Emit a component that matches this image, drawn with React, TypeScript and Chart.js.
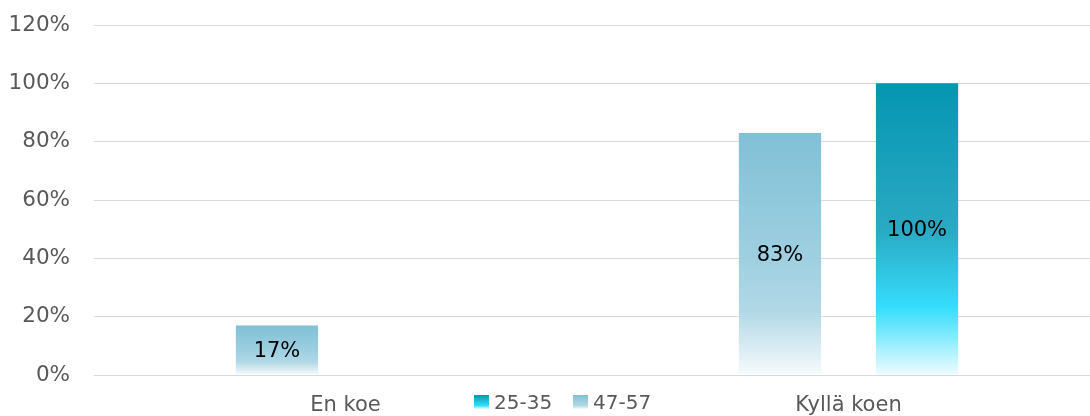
import React, { useEffect, useRef } from "react";
import { Chart, registerables } from "chart.js";

Chart.register(...registerables);

const categories = ["En koe", "Kyllä koen"];
const series4757 = [17, 83];
const series2535 = [null, 100];
const seriesNames = ["47-57", "25-35"];
const yTicks = [0, 20, 40, 60, 80, 100, 120];

const FONT = "'DejaVu Sans', Verdana, sans-serif";

const lightStops: [number, string][] = [
  [0, "#80c0d6"],
  [0.5, "#9dcfe0"],
  [0.74, "#b2d8e6"],
  [1, "#f7fbfd"],
];
const tealStops: [number, string][] = [
  [0, "#0596b2"],
  [0.5, "#2aa9c3"],
  [0.77, "#35defc"],
  [1, "#eefcff"],
];

function makeGrad(ctx: CanvasRenderingContext2D, top: number, bottom: number, stops: [number, string][]) {
  const g = ctx.createLinearGradient(0, top, 0, bottom);
  stops.forEach(([o, c]) => g.addColorStop(o, c));
  return g;
}

function barBg(stops: [number, string][]) {
  return (context: any) => {
    const chart = context.chart;
    const y = chart.scales?.y;
    const v = context.raw;
    if (!chart.chartArea || !y || v == null) return stops[0][1];
    const top = y.getPixelForValue(v);
    const bottom = y.getPixelForValue(0);
    return makeGrad(chart.ctx, top, bottom, stops);
  };
}

const dataLabelPlugin = {
  id: "dataLabels",
  afterDatasetsDraw(chart: any) {
    const ctx = chart.ctx;
    ctx.save();
    ctx.font = `21px ${FONT}`;
    ctx.fillStyle = "#000000";
    ctx.textAlign = "center";
    ctx.textBaseline = "middle";
    chart.data.datasets.forEach((ds: any, di: number) => {
      const meta = chart.getDatasetMeta(di);
      meta.data.forEach((el: any, i: number) => {
        const v = ds.data[i];
        if (v == null) return;
        ctx.fillText(`${v}%`, el.x, (el.y + el.base) / 2 + 2);
      });
    });
    ctx.restore();
  },
};

const legendPlugin = {
  id: "customLegend",
  afterDraw(chart: any) {
    const ctx = chart.ctx;
    ctx.save();
    ctx.font = `20px ${FONT}`;
    ctx.textBaseline = "middle";
    ctx.textAlign = "left";
    const items = [
      { label: seriesNames[1], stops: tealStops, x: 474 },
      { label: seriesNames[0], stops: lightStops, x: 573 },
    ];
    const cy = 403;
    items.forEach((it) => {
      const bt = 395;
      ctx.fillStyle = makeGrad(ctx, bt, bt + 14, [
        [0, it.stops[0][1]],
        [0.75, it.stops[2][1]],
        [1, it.stops[3][1]],
      ]);
      ctx.fillRect(it.x, bt, 15, 14);
      ctx.fillStyle = "#595959";
      ctx.fillText(it.label, it.x + 20, cy + 1);
    });
    ctx.restore();
  },
};

export default function App() {
  const ref = useRef<HTMLCanvasElement>(null);
  useEffect(() => {
    if (!ref.current) return;
    const chart = new Chart(ref.current, {
      type: "bar",
      data: {
        labels: categories,
        datasets: [
          {
            label: seriesNames[0],
            data: series4757,
            backgroundColor: barBg(lightStops),
            categoryPercentage: 0.545,
            barPercentage: 0.6,
          },
          {
            label: seriesNames[1],
            data: series2535,
            backgroundColor: barBg(tealStops),
            categoryPercentage: 0.545,
            barPercentage: 0.6,
          },
        ],
      },
      options: {
        animation: false,
        responsive: false,
        maintainAspectRatio: false,
        layout: { padding: { left: 0, right: 0, top: 25, bottom: 0 } },
        plugins: {
          legend: { display: false },
          tooltip: { enabled: false },
        },
        scales: {
          x: {
            offset: true,
            grid: { display: false, drawTicks: false },
            border: { display: false },
            afterFit: (axis: any) => {
              axis.height = 41;
            },
            ticks: {
              color: "#595959",
              font: { family: FONT, size: 21, lineHeight: 1 },
              padding: 20,
            },
          },
          y: {
            min: yTicks[0],
            max: yTicks[yTicks.length - 1],
            afterBuildTicks: (axis: any) => {
              axis.ticks = yTicks.map((v) => ({ value: v }));
            },
            afterFit: (axis: any) => {
              axis.width = 94;
              axis.paddingTop = 0;
              axis.paddingBottom = 0;
            },
            grid: { color: "#d9d9d9", lineWidth: 1, drawTicks: false },
            border: { display: false },
            ticks: {
              color: "#595959",
              font: { family: FONT, size: 21.5, lineHeight: 1 },
              padding: 24,
              callback: (v: any) => `${v}%`,
            },
          },
        },
      },
      plugins: [dataLabelPlugin, legendPlugin],
    });
    return () => chart.destroy();
  }, []);
  return (
    <div style={{ position: "absolute", left: 0, top: 0, width: 1090, height: 416, overflow: "hidden", background: "#fff" }}>
      <canvas ref={ref} width={1100} height={416} style={{ display: "block" }} />
    </div>
  );
}
